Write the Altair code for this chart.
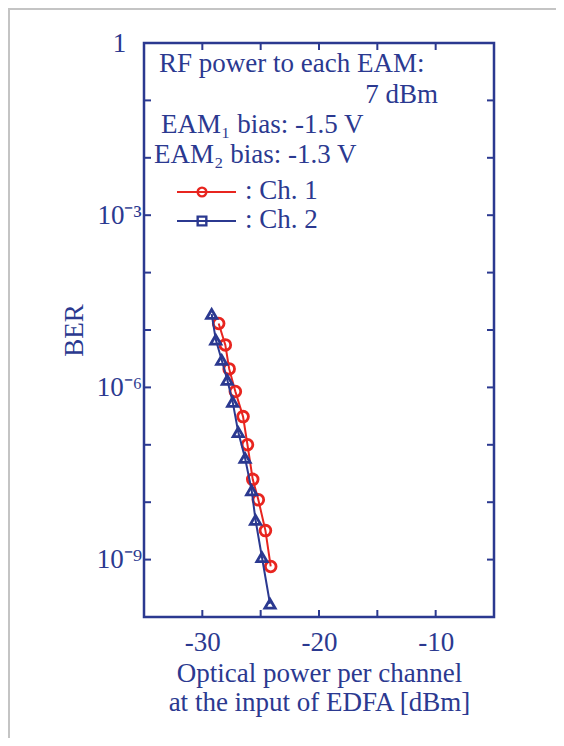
import altair as alt
import pandas as pd

# ---- data ----
ch1_power = [-28.6, -28.03, -27.7, -27.17, -26.51, -26.13, -25.68, -25.2, -24.59, -24.14]
ch1_ber = [1.3e-5, 5.5e-6, 2.1e-6, 8.5e-7, 3.1e-7, 1.0e-7, 2.5e-8, 1.1e-8, 3.2e-9, 7.6e-10]

ch2_power = [-29.2, -28.85, -28.34, -27.86, -27.40, -26.92, -26.34, -25.77, -25.44, -24.89, -24.2]
ch2_ber = [1.9e-5, 6.8e-6, 3.0e-6, 1.35e-6, 5.6e-7, 1.66e-7, 5.9e-8, 1.6e-8, 4.9e-9, 1.1e-9, 1.7e-10]

x_ticks = [-30, -25, -20, -15, -10]
x_labels = [-30, -20, -10]
y_ticks = [1, 1e-1, 1e-2, 1e-3, 1e-4, 1e-5, 1e-6, 1e-7, 1e-8, 1e-9, 1e-10]
y_labels = [1, 1e-3, 1e-6, 1e-9]

BLUE = "#2b3990"
RED = "#e8251f"
GRAY = "#c4c4c4"
FONT = "Liberation Serif"
FS = 27
W, H = 350, 574

df1 = pd.DataFrame({"p": ch1_power, "ber": ch1_ber})
df2 = pd.DataFrame({"p": ch2_power, "ber": ch2_ber})
dfx = pd.DataFrame({"p": x_ticks})
dfy = pd.DataFrame({"ber": y_ticks})

xscale = alt.Scale(domain=[-35, -5], nice=False, zero=False)
yscale = alt.Scale(type="log", domain=[1e-10, 1], nice=False)

label_expr = ("round(log(datum.value)/LN10) == 0 ? '1' : "
              "round(log(datum.value)/LN10) == -3 ? '10⁻³' : "
              "round(log(datum.value)/LN10) == -6 ? '10⁻⁶' : "
              "round(log(datum.value)/LN10) == -9 ? '10⁻⁹' : ''")

xaxis = alt.Axis(values=x_labels, ticks=False, domain=False, grid=False,
                 labelExpr="'' + datum.value",
                 labelFont=FONT, labelFontSize=FS, labelColor=BLUE, labelPadding=12,
                 title=["Optical power per channel", "at the input of EDFA [dBm]"],
                 titleFont=FONT, titleFontSize=FS, titleColor=BLUE, titleFontWeight="normal",
                 titlePadding=5, titleLineHeight=29)
yaxis = alt.Axis(values=y_labels, ticks=False, domain=False, grid=False,
                 labelExpr=label_expr, labelFont=FONT, labelFontSize=FS, labelColor=BLUE,
                 labelAlign="center", labelPadding=25, title="BER", titleFont=FONT,
                 titleFontSize=FS, titleColor=BLUE, titleFontWeight="normal", titlePadding=8)

X = alt.X("p:Q", scale=xscale, axis=xaxis)
Y = alt.Y("ber:Q", scale=yscale, axis=yaxis)

# frame ticks (inside, all four sides)
tick_len = 7
bt = alt.Chart(dfx).mark_rule(color=BLUE, strokeWidth=2).encode(
    x=alt.X("p:Q", scale=xscale), y=alt.value(H), y2=alt.value(H - tick_len))
tt = alt.Chart(dfx).mark_rule(color=BLUE, strokeWidth=2).encode(
    x=alt.X("p:Q", scale=xscale), y=alt.value(0), y2=alt.value(tick_len))
lt = alt.Chart(dfy).mark_rule(color=BLUE, strokeWidth=2).encode(
    y=alt.Y("ber:Q", scale=yscale), x=alt.value(0), x2=alt.value(tick_len))
rt = alt.Chart(dfy).mark_rule(color=BLUE, strokeWidth=2).encode(
    y=alt.Y("ber:Q", scale=yscale), x=alt.value(W), x2=alt.value(W - tick_len))

line1 = alt.Chart(df1).mark_line(color=RED, strokeWidth=2).encode(x=X, y=Y)
pts1 = alt.Chart(df1).mark_point(shape="circle", size=115, filled=False, color=RED,
                                 strokeWidth=2.8, opacity=1).encode(x=X, y=Y)
line2 = alt.Chart(df2).mark_line(color=BLUE, strokeWidth=2).encode(x=X, y=Y)
pts2 = alt.Chart(df2).mark_point(shape="triangle-up", size=105, filled=False, color=BLUE,
                                 strokeWidth=2.8, opacity=1).encode(x=X, y=Y)

# annotation block and legend
ann = pd.DataFrame({
    "t": ["RF power to each EAM:", "EAM₁ bias: -1.5 V", "EAM₂ bias: -1.3 V", ": Ch. 1", ": Ch. 2"],
    "x": [15, 17, 10, 101, 101],
    "y": [21, 82, 112, 148, 177],
})
txt = alt.Chart(ann).mark_text(font=FONT, fontSize=FS, color=BLUE, align="left",
                               baseline="middle").encode(
    text="t:N", x=alt.X("x:Q", scale=None), y=alt.Y("y:Q", scale=None))
txt2 = alt.Chart(pd.DataFrame({"t": ["7 dBm"]})).mark_text(
    font=FONT, fontSize=FS, color=BLUE, align="right", baseline="middle").encode(
    text="t:N", x=alt.value(294), y=alt.value(52))

one = pd.DataFrame({"k": [1]})
leg_r = alt.Chart(one).mark_rule(color=RED, strokeWidth=2.2).encode(
    x=alt.value(33), x2=alt.value(92), y=alt.value(149))
leg_rp = alt.Chart(one).mark_point(
    shape="circle", size=75, filled=False, color=RED, strokeWidth=2.4,
    opacity=1).encode(x=alt.value(58), y=alt.value(149))
leg_b = alt.Chart(one).mark_rule(color=BLUE, strokeWidth=2.2).encode(
    x=alt.value(33), x2=alt.value(92), y=alt.value(178))
leg_bp = alt.Chart(one).mark_point(
    shape="square", size=75, filled=False, color=BLUE, strokeWidth=2.4,
    opacity=1).encode(x=alt.value(58), y=alt.value(178))

# faint frame of the original picture (top and left edges)
frame_top = alt.Chart(one).mark_rule(color=GRAY, strokeWidth=2).encode(
    x=alt.value(-136), x2=alt.value(412), y=alt.value(-34))
frame_left = alt.Chart(one).mark_rule(color=GRAY, strokeWidth=2).encode(
    x=alt.value(-135), y=alt.value(-35), y2=alt.value(695))

chart = alt.layer(
    frame_top, frame_left,
    line1, pts1, line2, pts2, bt, tt, lt, rt, txt, txt2, leg_r, leg_rp, leg_b, leg_bp
).properties(
    width=W, height=H,
    autosize=alt.AutoSizeParams(type="none"),
    padding={"left": 136, "top": 35, "right": 62, "bottom": 121},
    background="white",
).configure_view(stroke=BLUE, strokeWidth=2.5)

chart.save("out.html", embed_options={"renderer": "svg", "actions": False})
